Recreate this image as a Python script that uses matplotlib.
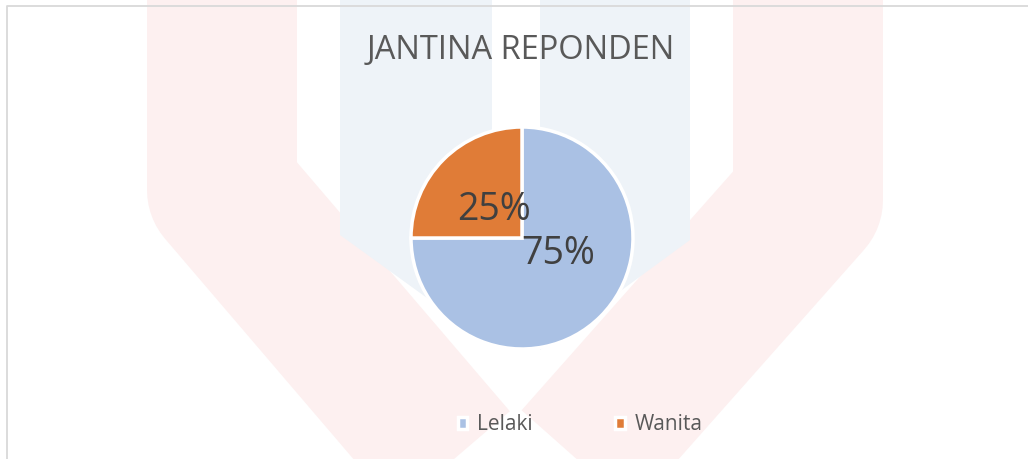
import numpy as np
import matplotlib.pyplot as plt

plt.rcParams['font.family'] = ['Open Sans', 'DejaVu Sans']

categories = ['Lelaki', 'Wanita']
values = [75, 25]
colors = ['#AAC1E4', '#E07C37']
title = 'JANTINA REPONDEN'

W, H = 1028, 459
fig = plt.figure(figsize=(W / 100, H / 100), dpi=100)
ax = fig.add_axes([0, 0, 1, 1])

# faint watermark behind the chart (pixel coords from top-left)
def band(xs, ys, color):
    ax.plot(xs, [H - y for y in ys], color=color, lw=150 / 1.389,
            solid_capstyle='butt', solid_joinstyle='round', zorder=0)

def patch(xs, ys, color):
    ax.fill(xs, [H - y for y in ys], color=color, lw=0, zorder=0)

band([222, 222, 470], [-20, 190, 480], '#FDF0F0')
band([808, 808, 560], [-20, 200, 480], '#FDF0F0')
patch([340, 492, 492, 340], [0, 0, 345, 235], '#EEF3F8')
patch([540, 690, 690, 540], [0, 0, 240, 350], '#EEF3F8')

# frame of the chart area
ax.plot([7, 7, W], [0, H - 6, H - 6], color='#D9D9D9', lw=1.3, zorder=1)

cx, cy, r = 522, H - 238, 111
wedges, texts, autotexts = ax.pie(
    values, colors=colors, startangle=90, counterclock=False,
    center=(cx, cy), radius=r, autopct='%1.0f%%',
    wedgeprops=dict(edgecolor='white', linewidth=2.5),
    textprops=dict(fontsize=27, color='#404040'))
for w in wedges:
    w.set_zorder(2)

label_offsets = [(36, -12), (-28, 32)]
for t, (dx, dy) in zip(autotexts, label_offsets):
    t.set_position((cx + dx, cy + dy))
    t.set_ha('center')
    t.set_va('center_baseline')
    t.set_zorder(3)

ax.set_xlim(0, W)
ax.set_ylim(0, H)
ax.set_aspect('equal', adjustable='box')
ax.axis('off')

fig.text(521 / W, 1 - 50.5 / H, title, ha='center', va='center',
         fontsize=23.5, color='#595959')

fig.legend(wedges, categories, loc='center', bbox_to_anchor=(580 / W, 1 - 425 / H),
           ncol=2, frameon=False, fontsize=15, labelcolor='#595959',
           handlelength=0.45, handleheight=0.45, handletextpad=0.45,
           columnspacing=4.0)

fig.savefig('out.png', dpi=100, facecolor='white')
